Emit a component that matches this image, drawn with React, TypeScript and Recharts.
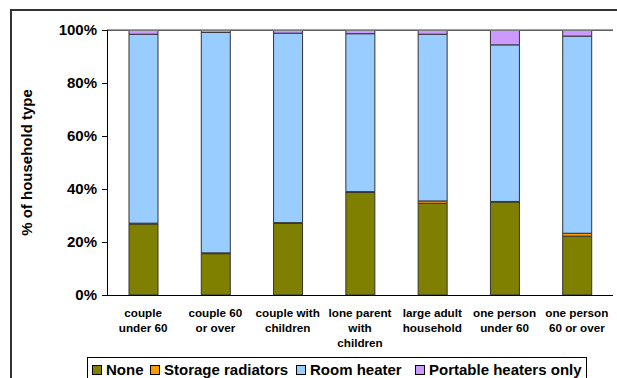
import React from "react";
import { BarChart, Bar, XAxis, YAxis, CartesianGrid, ReferenceLine } from "recharts";

const categoryLines: string[][] = [
  ["couple", "under 60"],
  ["couple 60", "or over"],
  ["couple with", "children"],
  ["lone parent", "with", "children"],
  ["large adult", "household"],
  ["one person", "under 60"],
  ["one person", "60 or over"],
];
const categories = categoryLines.map((l) => l.join(" "));

const noneValues = [26.8, 15.6, 27.0, 38.7, 34.6, 35.1, 22.2];
const storageValues = [0.3, 0.3, 0.3, 0.3, 0.9, 0.2, 1.1];
const roomValues = [71.3, 83.2, 71.5, 59.6, 62.9, 59.1, 74.4];
const portableValues = [1.6, 0.9, 1.2, 1.4, 1.6, 5.6, 2.3];

const yTicks = [0, 20, 40, 60, 80, 100];
const boundaryTicks = [0, 1, 2, 3, 4, 5, 6, 7];

const series = [
  { key: "none", name: "None", color: "#808000" },
  { key: "storage", name: "Storage radiators", color: "#FF9900" },
  { key: "room", name: "Room heater", color: "#99CCFF" },
  { key: "portable", name: "Portable heaters only", color: "#CC99FF" },
];
const legendItemWidths = [58, 146, 119, undefined];

const data = categories.map((c, i) => ({
  category: c,
  none: noneValues[i],
  storage: storageValues[i],
  room: roomValues[i],
  portable: portableValues[i],
}));

const FONT = "'Liberation Sans', Arial, Helvetica, sans-serif";

const XTick = (props: any) => {
  const { x, y, payload, index } = props;
  const lines = categoryLines[index] || String(payload.value).split(" ");
  return (
    <text
      x={x}
      y={y + 17}
      textAnchor="middle"
      fontFamily={FONT}
      fontWeight="bold"
      fontSize={11.7}
      fill="#000"
    >
      {lines.map((l: string, i: number) => (
        <tspan key={i} x={x} dy={i === 0 ? 0 : 15}>
          {l}
        </tspan>
      ))}
    </text>
  );
};

const YLabel = (props: any) => {
  const vb = props.viewBox || {};
  const x = (vb.x || 0) + 26;
  const y = (vb.y || 0) + (vb.height || 0) / 2;
  return (
    <text
      x={x}
      y={y}
      transform={`rotate(-90, ${x}, ${y})`}
      textAnchor="middle"
      dominantBaseline="central"
      fontFamily={FONT}
      fontWeight="bold"
      fontSize={15}
      fill="#000"
    >
      % of household type
    </text>
  );
};

export default function App() {
  return (
    <div
      style={{
        position: "absolute",
        left: 0,
        top: 0,
        width: 617,
        height: 378,
        overflow: "hidden",
        background: "#fff",
        fontFamily: FONT,
      }}
    >
      <div
        style={{
          position: "absolute",
          left: 10,
          top: 9,
          width: 700,
          height: 500,
          borderTop: "2px solid #333",
          borderLeft: "2px solid #333",
        }}
      />
      <div style={{ position: "absolute", left: 0, top: 0 }}>
        <BarChart
          width={617}
          height={378}
          data={data}
          margin={{ top: 30, right: 4, left: 0, bottom: 23 }}
          barCategoryGap={0}
        >
          <CartesianGrid vertical={false} stroke="#000" strokeWidth={1} shapeRendering="crispEdges" />
          <XAxis
            xAxisId="bounds"
            type="number"
            dataKey="idx"
            domain={[0, 7]}
            ticks={boundaryTicks}
            tick={false}
            axisLine={false}
            tickLine={{ stroke: "#000", shapeRendering: "crispEdges" }}
            tickSize={5}
            height={0}
            allowDataOverflow
          />
          <XAxis
            xAxisId="cat"
            dataKey="category"
            tick={<XTick />}
            tickLine={false}
            axisLine={{ stroke: "#000", shapeRendering: "crispEdges" }}
            tickSize={5}
            tickMargin={0}
            height={60}
            interval={0}
          />
          <YAxis
            yAxisId="left"
            width={107}
            domain={[0, 100]}
            ticks={yTicks}
            tickFormatter={(v: number) => `${v}%`}
            tick={{ fontFamily: FONT, fontWeight: "bold", fontSize: 15, fill: "#000" }}
            tickLine={{ stroke: "#000", shapeRendering: "crispEdges" }}
            axisLine={{ stroke: "#000", shapeRendering: "crispEdges" }}
            tickSize={5}
            tickMargin={5}
            label={<YLabel />}
            allowDataOverflow
          />
          <YAxis
            yAxisId="right"
            orientation="right"
            width={0}
            domain={[0, 100]}
            tick={false}
            tickLine={false}
            axisLine={{ stroke: "#808080", strokeWidth: 1.5 }}
          />
          <ReferenceLine yAxisId="left" xAxisId="cat" y={100} stroke="#808080" strokeWidth={1.5} />
          {series.map((s) => (
            <Bar
              key={s.key}
              dataKey={s.key}
              name={s.name}
              stackId="a"
              fill={s.color}
              stroke="#333"
              strokeWidth={1}
              barSize={29}
              xAxisId="cat"
              yAxisId="left"
              isAnimationActive={false}
            />
          ))}
        </BarChart>
      </div>
      <div
        style={{
          position: "absolute",
          left: 87,
          top: 357,
          width: 500,
          height: 40,
          border: "1px solid #000",
          boxSizing: "border-box",
          paddingTop: 3,
          paddingLeft: 4,
          display: "flex",
          alignItems: "flex-start",
          fontFamily: FONT,
          fontWeight: "bold",
          fontSize: 15,
          lineHeight: "17px",
          color: "#000",
          whiteSpace: "nowrap",
        }}
      >
        {series.map((s, i) => (
          <div
            key={s.key}
            style={{
              display: "flex",
              alignItems: "center",
              width: legendItemWidths[i],
              flex: "none",
            }}
          >
            <span
              style={{
                display: "inline-block",
                width: 8,
                height: 8,
                background: s.color,
                border: "1px solid #000",
                marginRight: 4,
              }}
            />
            <span>{s.name}</span>
          </div>
        ))}
      </div>
    </div>
  );
}
